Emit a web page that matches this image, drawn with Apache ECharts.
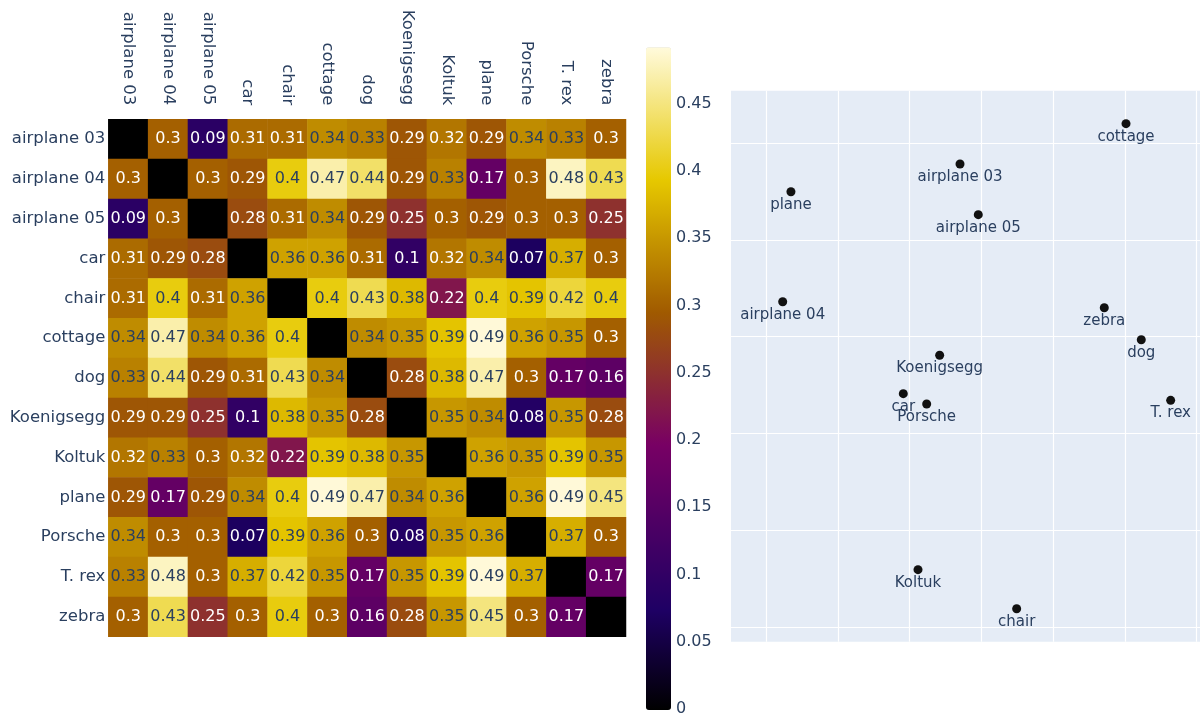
<!DOCTYPE html>
<html>
<head>
<meta charset="utf-8">
<script src="https://cdn.jsdelivr.net/npm/echarts@6/dist/echarts.min.js"></script>
<style>
  html, body { margin: 0; padding: 0; background: #ffffff; }
  #chart { width: 1203px; height: 717px; }
</style>
</head>
<body>
<div id="chart"></div>
<script>
// Object names shared by the distance matrix (rows and columns)
const categories = ['airplane 03', 'airplane 04', 'airplane 05', 'car', 'chair', 'cottage',
  'dog', 'Koenigsegg', 'Koltuk', 'plane', 'Porsche', 'T. rex', 'zebra'];

// Pairwise distances, one row per object (diagonal is zero)
const rowAirplane03 = [0, 0.3, 0.09, 0.31, 0.31, 0.34, 0.33, 0.29, 0.32, 0.29, 0.34, 0.33, 0.3];
const rowAirplane04 = [0.3, 0, 0.3, 0.29, 0.4, 0.47, 0.44, 0.29, 0.33, 0.17, 0.3, 0.48, 0.43];
const rowAirplane05 = [0.09, 0.3, 0, 0.28, 0.31, 0.34, 0.29, 0.25, 0.3, 0.29, 0.3, 0.3, 0.25];
const rowCar        = [0.31, 0.29, 0.28, 0, 0.36, 0.36, 0.31, 0.1, 0.32, 0.34, 0.07, 0.37, 0.3];
const rowChair      = [0.31, 0.4, 0.31, 0.36, 0, 0.4, 0.43, 0.38, 0.22, 0.4, 0.39, 0.42, 0.4];
const rowCottage    = [0.34, 0.47, 0.34, 0.36, 0.4, 0, 0.34, 0.35, 0.39, 0.49, 0.36, 0.35, 0.3];
const rowDog        = [0.33, 0.44, 0.29, 0.31, 0.43, 0.34, 0, 0.28, 0.38, 0.47, 0.3, 0.17, 0.16];
const rowKoenigsegg = [0.29, 0.29, 0.25, 0.1, 0.38, 0.35, 0.28, 0, 0.35, 0.34, 0.08, 0.35, 0.28];
const rowKoltuk     = [0.32, 0.33, 0.3, 0.32, 0.22, 0.39, 0.38, 0.35, 0, 0.36, 0.35, 0.39, 0.35];
const rowPlane      = [0.29, 0.17, 0.29, 0.34, 0.4, 0.49, 0.47, 0.34, 0.36, 0, 0.36, 0.49, 0.45];
const rowPorsche    = [0.34, 0.3, 0.3, 0.07, 0.39, 0.36, 0.3, 0.08, 0.35, 0.36, 0, 0.37, 0.3];
const rowTRex       = [0.33, 0.48, 0.3, 0.37, 0.42, 0.35, 0.17, 0.35, 0.39, 0.49, 0.37, 0, 0.17];
const rowZebra      = [0.3, 0.43, 0.25, 0.3, 0.4, 0.3, 0.16, 0.28, 0.35, 0.45, 0.3, 0.17, 0];

const distanceRows = [rowAirplane03, rowAirplane04, rowAirplane05, rowCar, rowChair, rowCottage,
  rowDog, rowKoenigsegg, rowKoltuk, rowPlane, rowPorsche, rowTRex, rowZebra];

// Colour bar range and its tick spacing
const colorMin = 0;
const colorMax = 0.492;
const colorTickStep = 0.05;

// 2-D embedding of the same objects
const pointNames = ['cottage', 'airplane 03', 'plane', 'airplane 05', 'airplane 04', 'zebra', 'dog',
  'Koenigsegg', 'car', 'Porsche', 'T. rex', 'Koltuk', 'chair'];
const pointX = [5.017, 2.702, 0.344, 2.957, 0.229, 4.714, 5.230, 2.418, 1.911, 2.237, 5.640, 2.116, 3.492];
const pointY = [2.203, 1.786, 1.499, 1.262, 0.362, 0.300, -0.031, -0.192, -0.589, -0.696, -0.658, -2.409, -2.813];
const embedXRange = [-0.492, 6.049];
const embedYRange = [-3.154, 2.544];

// "Electric" colour scale, expanded into an evenly spaced ramp for visualMap
const electricStops = [
  [0, [0, 0, 0]], [0.15, [30, 0, 100]], [0.4, [120, 0, 100]],
  [0.6, [160, 90, 0]], [0.8, [230, 200, 0]], [1, [255, 250, 220]]
];
function electricRamp(n) {
  const out = [];
  for (let i = 0; i < n; i++) {
    const t = i / (n - 1);
    let k = 0;
    while (k < electricStops.length - 2 && t > electricStops[k + 1][0]) k++;
    const [t0, c0] = electricStops[k];
    const [t1, c1] = electricStops[k + 1];
    const f = (t - t0) / (t1 - t0);
    const c = c0.map((v, j) => Math.round(v + (c1[j] - v) * f));
    out.push('rgb(' + c.join(',') + ')');
  }
  return out;
}

const FONT = 'DejaVu Sans';
const INK = '#2a3f5f';

// Heatmap cells with a readable text colour for dark and light cells
const heatData = [];
distanceRows.forEach((row, r) => {
  row.forEach((v, c) => {
    heatData.push({
      value: [c, r, v],
      label: { color: v < 0.325 ? '#ffffff' : INK }
    });
  });
});

// Integer grid lines for the embedding panel
const gridLines = [];
for (let k = Math.ceil(embedXRange[0]); k <= Math.floor(embedXRange[1]); k++) gridLines.push({ xAxis: k });
for (let k = Math.ceil(embedYRange[0]); k <= Math.floor(embedYRange[1]); k++) gridLines.push({ yAxis: k });

const chart = echarts.init(document.getElementById('chart'), null, { renderer: 'canvas' });

chart.setOption({
  backgroundColor: '#ffffff',
  animation: false,
  textStyle: { fontFamily: FONT },
  grid: [
    { left: 108.3, top: 119.3, width: 517.7, height: 517.4, containLabel: false },
    { left: 646, top: 47.3, width: 25, height: 662.7, containLabel: false },
    { left: 731, top: 90.7, width: 469, height: 551, containLabel: false,
      show: true, backgroundColor: '#E5ECF6', borderWidth: 0 }
  ],
  xAxis: [
    {
      gridIndex: 0, type: 'category', data: categories, position: 'top',
      axisLine: { show: false }, axisTick: { show: false }, splitLine: { show: false },
      axisLabel: { rotate: 90, margin: 14, fontSize: 16.5, color: INK, fontFamily: FONT, interval: 0 }
    },
    { gridIndex: 1, type: 'value', show: false },
    { gridIndex: 2, type: 'value', min: embedXRange[0], max: embedXRange[1], show: false }
  ],
  yAxis: [
    {
      gridIndex: 0, type: 'category', data: categories, inverse: true,
      axisLine: { show: false }, axisTick: { show: false }, splitLine: { show: false },
      axisLabel: { margin: 3, fontSize: 16.5, color: INK, fontFamily: FONT, interval: 0 }
    },
    {
      gridIndex: 1, type: 'value', min: colorMin, max: colorMax, interval: colorTickStep,
      position: 'right',
      axisLine: { show: false }, axisTick: { show: false }, splitLine: { show: false },
      axisLabel: { margin: 5, fontSize: 16, color: INK, fontFamily: FONT, showMaxLabel: false }
    },
    { gridIndex: 2, type: 'value', min: embedYRange[0], max: embedYRange[1], show: false }
  ],
  visualMap: {
    type: 'continuous', seriesIndex: 0, min: colorMin, max: colorMax,
    calculable: false, hoverLink: false, padding: 0,
    left: 646, top: 47.3, itemWidth: 25, itemHeight: 662.7,
    inRange: { color: electricRamp(101) },
    textStyle: { color: 'transparent' }
  },
  series: [
    {
      type: 'heatmap', xAxisIndex: 0, yAxisIndex: 0, data: heatData,
      label: {
        show: true, fontSize: 16, fontFamily: FONT,
        formatter: p => (p.value[2] === 0 ? '' : String(p.value[2]))
      },
      itemStyle: { borderWidth: 0 }
    },
    {
      type: 'scatter', xAxisIndex: 2, yAxisIndex: 2, data: [], silent: true, z: 1,
      markLine: {
        silent: true, symbol: 'none', animation: false, z: 1,
        lineStyle: { color: '#ffffff', width: 1.2, type: 'solid' },
        label: { show: false },
        data: gridLines
      }
    },
    {
      type: 'scatter', xAxisIndex: 2, yAxisIndex: 2, z: 3,
      symbolSize: 9, itemStyle: { color: '#111111', opacity: 1 },
      data: pointNames.map((n, i) => ({ name: n, value: [pointX[i], pointY[i]] })),
      label: {
        show: true, position: 'bottom', distance: 1, fontSize: 15,
        fontFamily: FONT, color: INK, formatter: p => p.name
      }
    }
  ]
});
</script>
</body>
</html>
